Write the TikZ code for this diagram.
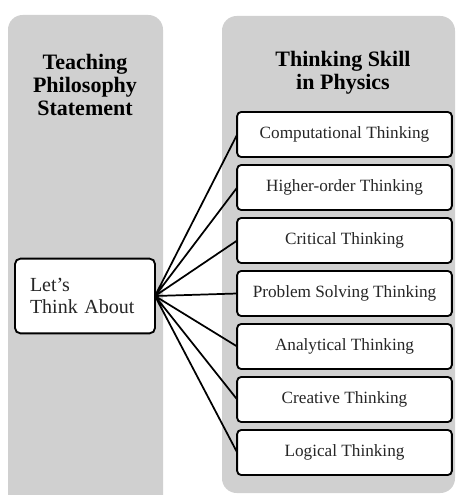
\documentclass[tikz,border=0pt]{standalone}
\usepackage{fontspec}
\setmainfont{Liberation Serif}
\usetikzlibrary{positioning}
\definecolor{panelgray}{RGB}{208,208,208}
\tikzset{
panel/.style={fill=panelgray, rounded corners=11pt}, % grey background columns
heading/.style={font=\fontsize{16.5}{17.2}\selectfont\bfseries, align=center},
skill/.style={
  draw=black, line width=1.4pt, rounded corners=3pt, fill=white,
  minimum width=161pt, minimum height=33.75pt, inner sep=0pt, outer sep=0pt,
  text=black!85, font=\fontsize{12.9}{15}\selectfont
  },
link/.style={line width=1.3pt}
}

\begin{document}
\begin{tikzpicture}[x=0.75pt, y=-0.75pt, node distance=6pt]
  \useasboundingbox (0,0) rectangle (455,495);
  \clip (0,0) rectangle (455,495);
  % background columns
  \fill[panel] (8,15) rectangle (163,530);
  \fill[panel] (222,16) rectangle (455,493);
  % headings
  \node[heading] (philo) at (85,85) {Teaching\\Philosophy\\Statement};
  \node[heading] (skills) at (343,73) {Thinking Skill\\in Physics};
  % left box
  \node[skill, minimum width=105pt, minimum height=56pt, rounded corners=4pt,
        text width=82.5pt, align=left, font=\fontsize{15}{16.5}\selectfont]
        (think) at (85,296) {Let’s\\Think About};
  % skills
  \node[skill] (comp) at (344.5,134.5) {Computational Thinking};
  \node[skill, below=of comp] (higher) {Higher-order Thinking};
  \node[skill, below=of higher] (critical) {Critical Thinking};
  \node[skill, below=of critical] (problem) {Problem Solving Thinking};
  \node[skill, below=of problem] (analytic) {Analytical Thinking};
  \node[skill, below=of analytic] (creative) {Creative Thinking};
  \node[skill, below=of creative] (logical) {Logical Thinking};
  % links
  \draw[link] (think.east) -- (comp.west)
              (think.east) -- (higher.west)
              (think.east) -- (critical.west)
              (think.east) -- (problem.west)
              (think.east) -- (analytic.west)
              (think.east) -- (creative.west)
              (think.east) -- (logical.west);
\end{tikzpicture}
\end{document}
